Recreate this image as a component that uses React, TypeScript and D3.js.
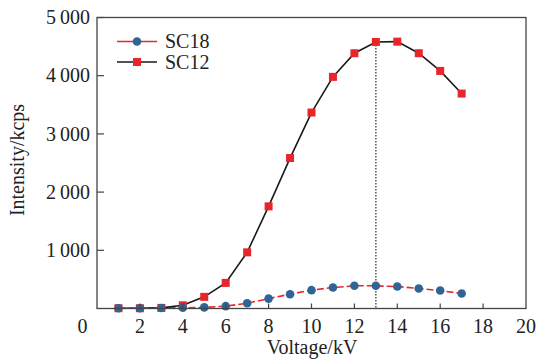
import React from 'react';
import * as d3 from 'd3';

const voltage = [1, 2, 3, 4, 5, 6, 7, 8, 9, 10, 11, 12, 13, 14, 15, 16, 17];
const sc18 = [5, 5, 8, 12, 20, 40, 90, 170, 245, 315, 360, 390, 390, 377, 343, 308, 257];
const sc12 = [5, 5, 10, 55, 200, 440, 965, 1755, 2585, 3367, 3980, 4386, 4580, 4585, 4386, 4082, 3693];
const xTicks = [2, 4, 6, 8, 10, 12, 14, 16, 18, 20];
const yTicks = [1000, 2000, 3000, 4000, 5000];
const peakVoltage = 13;

const W = 541;
const H = 359;
const margin = { top: 17.5, right: 15, bottom: 50, left: 97 };

const locale = d3.formatLocale({ decimal: '.', thousands: '\u2009', grouping: [3], currency: ['', ''] });
const fmt = locale.format(',d');

export default function App() {
    const x = d3.scaleLinear().domain([0, 20]).range([margin.left, W - margin.right]);
    const y = d3.scaleLinear().domain([0, 5000]).range([H - margin.bottom - 0.5, margin.top]);

    const line = d3
        .line<number>()
        .x((_, i) => x(voltage[i]))
        .y((d) => y(d));

    const font = '"Liberation Serif", "Times New Roman", serif';
    const blue = '#2f6496';
    const red = '#e8262a';
    const peak = sc12[voltage.indexOf(peakVoltage)];

    return (
        <svg width={W} height={H} style={{ position: 'absolute', left: 0, top: 0, background: '#fff' }}>
            {/* dotted guide at the peak */}
            <line x1={x(peakVoltage)} x2={x(peakVoltage)} y1={y(peak)} y2={y(0)}
                stroke="#555" strokeWidth={1.5} strokeDasharray="1.5,1.5" />

            {/* SC18 */}
            <path d={line(sc18) || ''} fill="none" stroke={red} strokeWidth={1.6} strokeDasharray="7,3" />
            {/* SC12 */}
            <path d={line(sc12) || ''} fill="none" stroke="#1a1a1a" strokeWidth={1.6} />
            {sc12.map((v, i) => (
                <rect key={'s' + i} x={x(voltage[i]) - 4} y={y(v) - 4} width={8} height={8} fill={red} />
            ))}
            {sc18.map((v, i) => (
                <circle key={'c' + i} cx={x(voltage[i])} cy={y(v)} r={4.3} fill={blue} />
            ))}

            {/* frame */}
            <rect x={margin.left} y={margin.top} width={x(20) - margin.left} height={y(0) - margin.top}
                fill="none" stroke="#444" strokeWidth={1.3} />

            {/* y ticks */}
            {yTicks.map((t) => (
                <g key={'y' + t}>
                    <line x1={margin.left} x2={margin.left + 7} y1={y(t)} y2={y(t)} stroke="#444" strokeWidth={1.2} />
                    <text x={90} y={y(t)} dy="0.33em" textAnchor="end" fontFamily={font} fontSize={20} fill="#222">
                        {fmt(t)}
                    </text>
                </g>
            ))}

            {/* x ticks */}
            {xTicks.map((t) => (
                <g key={'x' + t}>
                    {t < 20 && (
                        <line x1={x(t)} x2={x(t)} y1={y(0)} y2={y(0) - 5} stroke="#444" strokeWidth={1.2} />
                    )}
                    <text x={x(t)} y={333} textAnchor="middle" fontFamily={font} fontSize={20} fill="#222">
                        {t}
                    </text>
                </g>
            ))}
            <text x={82.5} y={333} textAnchor="middle" fontFamily={font} fontSize={20} fill="#222">0</text>

            {/* axis titles */}
            <text transform={`translate(24,160) rotate(-90)`} textAnchor="middle" fontFamily={font} fontSize={20} fill="#222">
                Intensity/kcps
            </text>
            <text x={312} y={354} textAnchor="middle" fontFamily={font} fontSize={20} fill="#222">
                Voltage/kV
            </text>

            {/* legend */}
            <g fontFamily={font} fontSize={20} fill="#222">
                <line x1={117} x2={157} y1={41.5} y2={41.5} stroke={red} strokeWidth={1.6} />
                <circle cx={137} cy={41.5} r={4.3} fill={blue} />
                <text x={165} y={48}>SC18</text>
                <line x1={117} x2={157} y1={62} y2={62} stroke="#1a1a1a" strokeWidth={1.6} />
                <rect x={133} y={58} width={8} height={8} fill={red} />
                <text x={165} y={69}>SC12</text>
            </g>
        </svg>
    );
}
